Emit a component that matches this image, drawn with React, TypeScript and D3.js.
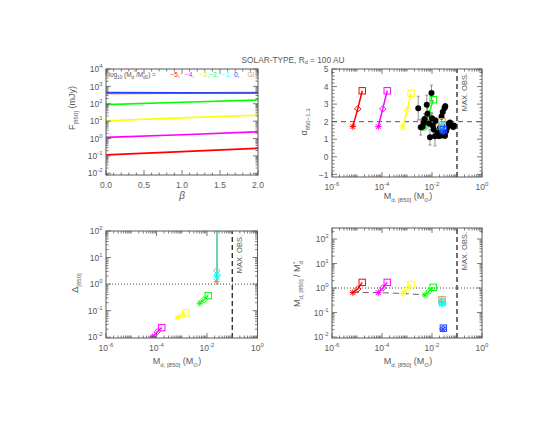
import React from "react";
import * as d3 from "d3";

const FONT = "'Liberation Sans', Arial, sans-serif";
const INK = "#5a5a5a";

const C = {
  red: "#ff0000",
  magenta: "#ff00ff",
  yellow: "#ffff00",
  green: "#00ff00",
  cyan: "#00ffff",
  blue: "#2040ff",
  brown: "#d09a70",
};

// ---------- Panel 1: F850 vs beta ----------
const beta = [0, 1, 2];
const betaTicks = [0, 0.5, 1, 1.5, 2];
const fluxRed = [0.115, 0.175, 0.27];
const fluxMagenta = [1.15, 1.65, 2.4];
const fluxYellow = [10.5, 15.2, 22];
const fluxGreen = [90, 122, 165];
const fluxCyan = [425, 428, 432];
const fluxBrown = [385, 410, 440];
const fluxBlue = [440, 428, 415];

// ---------- model tracks (star, diamond, square) ----------
const massRed = [6.8e-6, 1.07e-5, 1.62e-5];
const massMagenta = [7.1e-5, 1.07e-4, 1.62e-4];
const massYellow = [6.8e-4, 1.02e-3, 1.45e-3];
const massGreen = [5.2e-3, 7.6e-3, 1.12e-2];
const massBrown = [2.4e-2, 2.45e-2, 2.5e-2];
const massCyan = [2.5e-2, 2.55e-2, 2.6e-2];
const massBlue = [2.75e-2, 2.8e-2, 2.85e-2];

const alphaRed = [1.72, 2.73, 3.76];
const alphaMagenta = [1.72, 2.73, 3.76];
const alphaYellow = [1.7, 2.67, 3.61];
const alphaGreen = [1.64, 2.46, 3.25];
const alphaBrown = [1.75, 1.9, 2.0];
const alphaCyan = [1.6, 1.68, 1.75];
const alphaBlue = [1.42, 1.48, 1.55];

const deltaRed = [0.0011, 0.0016, 0.0022];
const deltaMagenta = [0.0105, 0.016, 0.023];
const deltaYellow = [0.054, 0.066, 0.083];
const deltaGreen = [0.19, 0.26, 0.37];
const deltaBrown = [1.25, 3.2, 5e4];
const deltaCyan = [1.9, 2.2, 5e4];
const deltaBlue = [400, 3000, 5e4];

const ratioRed = [0.65, 0.91, 1.7];
const ratioMagenta = [0.65, 1.0, 1.7];
const ratioYellow = [0.6, 0.91, 1.4];
const ratioGreen = [0.52, 0.75, 1.07];
const ratioBrown = [0.28, 0.31, 0.33];
const ratioCyan = [0.22, 0.24, 0.26];
const ratioBlue = [0.021, 0.022, 0.023];

// ---------- observations ----------
const obsLogMass = [-2.55, -2.45, -2.38, -2.33, -2.3, -2.21, -2.18, -2.12, -2.08, -2.02, -2.0, -1.97, -1.93, -1.88, -1.85, -1.78, -1.72, -1.68, -1.62, -1.57, -1.52, -1.5, -1.47, -1.48, -1.44, -1.4, -1.35, -1.28, -1.22, -1.15, -1.12, -1.6];
const obsAlpha = [2.77, 1.69, 1.72, 1.95, 2.15, 2.96, 2.45, 1.9, 1.12, 3.63, 2.2, 1.78, 1.55, 1.17, 2.05, 1.35, 1.18, 1.65, 2.3, 2.55, 1.7, 2.78, 2.88, 1.2, 1.45, 1.62, 1.88, 1.95, 1.78, 1.7, 1.78, 1.22];
const obsErr = [0.68, 0.45, 0.2, 0.25, 0.3, 0.55, 0.35, 0.2, 0.45, 0.45, 0.3, 0.25, 0.2, 0.55, 0.2, 0.15, 0.15, 0.15, 0.15, 0.15, 0.15, 0.15, 0.15, 0.15, 0.15, 0.15, 0.1, 0.1, 0.1, 0.1, 0.1, 0.1];

const maxObs = 0.1;

// ---------- scales ----------
const tlX = d3.scaleLinear().domain([0, 2]).range([106, 258]);
const tlY = d3.scaleLog().domain([Math.pow(10, -2.1), 1e4]).range([175, 69]);
const trX = d3.scaleLog().domain([1e-6, 1]).range([332, 482]);
const trY = d3.scaleLinear().domain([-1.15, 5]).range([177, 69]);
const blX = d3.scaleLog().domain([1e-6, 1]).range([106, 257.5]);
const blY = d3.scaleLog().domain([Math.pow(10, -2.03), 100]).range([338, 231]);
const brX = d3.scaleLog().domain([1e-6, 1]).range([332, 482]);
const brY = d3.scaleLog().domain([Math.pow(10, -2.04), Math.pow(10, 2.45)]).range([338, 228]);

function logTicks(dom: number[]) {
  const [a, b] = dom;
  const major: number[] = [];
  const minor: number[] = [];
  for (let e = Math.floor(Math.log10(a)); e <= Math.ceil(Math.log10(b)); e++) {
    for (let k = 1; k <= 9; k++) {
      const v = k * Math.pow(10, e);
      if (v < a * 0.9999 || v > b * 1.0001) continue;
      (k === 1 ? major : minor).push(v);
    }
  }
  return { major, minor };
}

const powFmt = (v: number) => {
  const e = Math.round(Math.log10(v));
  return (
    <>
      10
      <tspan dy={-4} fontSize={6}>
        {e < 0 ? "-" + Math.abs(e) : String(e)}
      </tspan>
    </>
  );
};

function Frame(props: any) {
  const { x, y, xMajor, xMinor, yMajor, yMinor, xFmt, yFmt } = props;
  const [x0, x1] = x.range();
  const [y0, y1] = y.range();
  const M = 5;
  const m = 2.5;
  let d = "";
  xMajor.forEach((v: number) => {
    const p = x(v);
    d += `M${p},${y0}v${-M}M${p},${y1}v${M}`;
  });
  xMinor.forEach((v: number) => {
    const p = x(v);
    d += `M${p},${y0}v${-m}M${p},${y1}v${m}`;
  });
  yMajor.forEach((v: number) => {
    const p = y(v);
    d += `M${x0},${p}h${M}M${x1},${p}h${-M}`;
  });
  yMinor.forEach((v: number) => {
    const p = y(v);
    d += `M${x0},${p}h${m}M${x1},${p}h${-m}`;
  });
  return (
    <g>
      <path d={d} stroke={INK} strokeWidth={0.8} fill="none" />
      <rect x={x0} y={y1} width={x1 - x0} height={y0 - y1} fill="none" stroke={INK} strokeWidth={1} />
      {xMajor.map((v: number) => (
        <text key={"x" + v} x={x(v)} y={y0 + 12.5} textAnchor="middle" fontSize={8.5} fill={INK}>
          {xFmt(v)}
        </text>
      ))}
      {yMajor.map((v: number) => (
        <text key={"y" + v} x={x0 - 3.5} y={y(v) + 3.2} textAnchor="end" fontSize={8.5} fill={INK}>
          {yFmt(v)}
        </text>
      ))}
    </g>
  );
}

function Marker({ type, cx, cy, color }: any) {
  const s = 3.2;
  if (type === "star") {
    const k = s * 0.75;
    return (
      <path
        d={`M${cx - s},${cy}H${cx + s}M${cx},${cy - s}V${cy + s}M${cx - k},${cy - k}L${cx + k},${cy + k}M${cx - k},${cy + k}L${cx + k},${cy - k}`}
        stroke={color}
        strokeWidth={1}
        fill="none"
      />
    );
  }
  if (type === "diamond") {
    return <path d={`M${cx},${cy - s}L${cx + s},${cy}L${cx},${cy + s}L${cx - s},${cy}Z`} stroke={color} strokeWidth={1} fill="none" />;
  }
  return <rect x={cx - s} y={cy - s} width={2 * s} height={2 * s} stroke={color} strokeWidth={1} fill="none" />;
}

const markerTypes = ["star", "diamond", "square"];

function Track({ xs, ys, color, x, y }: any) {
  const pts = xs.map((v: number, i: number) => [x(v), y(ys[i])] as [number, number]);
  const line = d3.line();
  return (
    <g>
      <path d={line(pts) || ""} stroke={color} strokeWidth={1.5} fill="none" />
      {pts.map((p: [number, number], i: number) => (
        <Marker key={i} type={markerTypes[i]} cx={p[0]} cy={p[1]} color={color} />
      ))}
    </g>
  );
}

function MaxObs({ x, y }: any) {
  const [y0, y1] = y.range();
  const px = x(maxObs);
  return (
    <g>
      <line x1={px} x2={px} y1={y0} y2={y1} stroke="#111" strokeWidth={1.2} strokeDasharray="5,3" />
      <text transform={`translate(${px + 9.5},${y1 + 4}) rotate(-90)`} textAnchor="end" fontSize={7.5} fill={INK}>
        MAX. OBS.
      </text>
    </g>
  );
}

function Clip({ id, x, y }: any) {
  const [x0, x1] = x.range();
  const [y0, y1] = y.range();
  return (
    <clipPath id={id}>
      <rect x={x0} y={y1} width={x1 - x0} height={y0 - y1} />
    </clipPath>
  );
}

function MassLabel({ cx, cy }: any) {
  return (
    <text x={cx} y={cy} textAnchor="middle" fontSize={9} fill={INK}>
      M
      <tspan dy={2.5} fontSize={6}>d, [850]</tspan>
      <tspan dy={-2.5}> (M</tspan>
      <tspan dy={2.5} fontSize={6}>⊙</tspan>
      <tspan dy={-2.5}>)</tspan>
    </text>
  );
}

export default function App() {
  const tlYT = logTicks(tlY.domain());
  const logX = logTicks([1e-6, 1]);
  const blYT = logTicks(blY.domain());
  const brYT = logTicks(brY.domain());
  const xMajLog = logX.major.filter((v) => Math.round(Math.log10(v)) % 2 === 0);
  const xMinLog = [...logX.minor, ...logX.major.filter((v) => Math.round(Math.log10(v)) % 2 !== 0)];
  const lineTL = (ys: number[]) => d3.line<number>().x((_, i) => tlX(beta[i])).y((v) => tlY(v))(ys) || "";
  const tlSeries: [number[], string][] = [
    [fluxRed, C.red],
    [fluxMagenta, C.magenta],
    [fluxYellow, C.yellow],
    [fluxGreen, C.green],
    [fluxCyan, C.cyan],
    [fluxBrown, C.brown],
    [fluxBlue, C.blue],
  ];
  const trTracks: [number[], number[], string][] = [
    [massRed, alphaRed, C.red],
    [massMagenta, alphaMagenta, C.magenta],
    [massYellow, alphaYellow, C.yellow],
    [massGreen, alphaGreen, C.green],
  ];
  const trTracks2: [number[], number[], string][] = [
    [massBrown, alphaBrown, C.brown],
    [massCyan, alphaCyan, C.cyan],
    [massBlue, alphaBlue, C.blue],
  ];
  const blTracks: [number[], number[], string][] = [
    [massRed, deltaRed, C.red],
    [massMagenta, deltaMagenta, C.magenta],
    [massYellow, deltaYellow, C.yellow],
    [massGreen, deltaGreen, C.green],
    [massBlue, deltaBlue, C.blue],
    [massBrown, deltaBrown, C.brown],
    [massCyan, deltaCyan, C.cyan],
  ];
  const brTracks: [number[], number[], string][] = [
    [massRed, ratioRed, C.red],
    [massMagenta, ratioMagenta, C.magenta],
    [massYellow, ratioYellow, C.yellow],
    [massGreen, ratioGreen, C.green],
    [massBrown, ratioBrown, C.brown],
    [massCyan, ratioCyan, C.cyan],
    [massBlue, ratioBlue, C.blue],
  ];
  const starLine = d3.line()([
    [brX(massRed[0]), brY(ratioRed[0])],
    [brX(massMagenta[0]), brY(ratioMagenta[0])],
    [brX(massYellow[0]), brY(ratioYellow[0])],
    [brX(massGreen[0]), brY(ratioGreen[0])],
  ]) || "";

  return (
    <svg width={550} height={425} fontFamily={FONT} style={{ position: "absolute", left: 0, top: 0, background: "#fff" }}>
      <defs>
        <Clip id="ctl" x={tlX} y={tlY} />
        <Clip id="ctr" x={trX} y={trY} />
        <Clip id="cbl" x={blX} y={blY} />
        <Clip id="cbr" x={brX} y={brY} />
      </defs>
      <rect width={550} height={425} fill="#fff" />

      {/* Title */}
      <text x={293} y={62.5} textAnchor="middle" fontSize={8.3} fill={INK}>
        SOLAR-TYPE, R<tspan dy={1.8} fontSize={5.5}>d</tspan>
        <tspan dy={-1.8}> = 100 AU</tspan>
      </text>

      {/* ===== Top-left ===== */}
      <g clipPath="url(#ctl)">
        {tlSeries.map(([ys, c], i) => (
          <path key={i} d={lineTL(ys)} stroke={c} strokeWidth={1.7} fill="none" />
        ))}
      </g>
      <Frame x={tlX} y={tlY} xMajor={betaTicks} xMinor={d3.range(0, 2.001, 0.1).filter((v) => Math.abs(v * 2 - Math.round(v * 2)) > 1e-6)} yMajor={tlYT.major} yMinor={tlYT.minor} xFmt={(v: number) => v.toFixed(1)} yFmt={powFmt} />
      <text x={108.5} y={77} fontSize={6.5} fill={INK}>
        log<tspan dy={2} fontSize={4.5}>10</tspan>
        <tspan dy={-2}> (M</tspan>
        <tspan dy={2} fontSize={4.5}>d</tspan>
        <tspan dy={-5} fontSize={4.5}>*</tspan>
        <tspan dy={3}>/M</tspan>
        <tspan dy={2} fontSize={4.5}>d0</tspan>
        <tspan dy={-2}>) =</tspan>
      </text>
      <text y={77} fontSize={6.5}>
        <tspan x={170.5} fill={C.red}>−5,</tspan>
        <tspan x={185} fill={C.magenta}>−4,</tspan>
        <tspan x={199.5} fill="#e8e800">−3</tspan>
        <tspan x={207.5} fill={C.green}>,−2,</tspan>
        <tspan x={222} fill={C.cyan}>−1,</tspan>
        <tspan x={234} fill={C.blue}>0,</tspan>
        <tspan x={247.5} fill={C.brown}>GI</tspan>
      </text>
      <text transform="translate(75,108) rotate(-90)" textAnchor="middle" fontSize={9} fill={INK}>
        F<tspan dy={2.5} fontSize={6}>[850]</tspan>
        <tspan dy={-2.5}> (mJy)</tspan>
      </text>
      <text x={182} y={199} textAnchor="middle" fontSize={10} fontStyle="italic" fill={INK}>
        β
      </text>

      {/* ===== Top-right ===== */}
      <g clipPath="url(#ctr)">
        <line x1={trX.range()[0]} x2={trX.range()[1]} y1={trY(2)} y2={trY(2)} stroke="#555" strokeWidth={1} strokeDasharray="5,4" />
        {trTracks.map(([xs, ys, c], i) => (
          <Track key={i} xs={xs} ys={ys} color={c} x={trX} y={trY} />
        ))}
        {obsLogMass.map((lm, i) => {
          const px = trX(Math.pow(10, lm));
          const y1 = trY(obsAlpha[i] + obsErr[i]);
          const y2 = trY(obsAlpha[i] - obsErr[i]);
          return (
            <path key={"e" + i} d={`M${px},${y1}V${y2}M${px - 1.5},${y1}h3M${px - 1.5},${y2}h3`} stroke="#777" strokeWidth={0.8} fill="none" />
          );
        })}
        {obsLogMass.map((lm, i) => (
          <circle key={"o" + i} cx={trX(Math.pow(10, lm))} cy={trY(obsAlpha[i])} r={3} fill="#000" />
        ))}
        {trTracks2.map(([xs, ys, c], i) => (
          <Track key={"b" + i} xs={xs} ys={ys} color={c} x={trX} y={trY} />
        ))}
      </g>
      <MaxObs x={trX} y={trY} />
      <Frame x={trX} y={trY} xMajor={xMajLog} xMinor={xMinLog} yMajor={d3.range(-1, 5.01, 1)} yMinor={d3.range(-1.2, 5.01, 0.2).filter((v) => Math.abs(v - Math.round(v)) > 1e-6 && v >= -1.15)} xFmt={powFmt} yFmt={(v: number) => (v < 0 ? "−" + Math.abs(v) : String(v))} />
      <text transform="translate(307,122) rotate(-90)" textAnchor="middle" fontSize={9} fill={INK}>
        α<tspan dy={2.5} fontSize={6}>850−1.3</tspan>
      </text>
      <MassLabel cx={408} cy={199} />

      {/* ===== Bottom-left ===== */}
      <g clipPath="url(#cbl)">
        <line x1={blX.range()[0]} x2={blX.range()[1]} y1={blY(1)} y2={blY(1)} stroke="#444" strokeWidth={1} strokeDasharray="1,2" />
        {blTracks.map(([xs, ys, c], i) => (
          <Track key={i} xs={xs} ys={ys} color={c} x={blX} y={blY} />
        ))}
      </g>
      <MaxObs x={blX} y={blY} />
      <Frame x={blX} y={blY} xMajor={xMajLog} xMinor={xMinLog} yMajor={blYT.major} yMinor={blYT.minor} xFmt={powFmt} yFmt={powFmt} />
      <text transform="translate(78,283) rotate(-90)" textAnchor="middle" fontSize={9} fill={INK}>
        Δ<tspan dy={2.5} fontSize={6}>[850]</tspan>
      </text>
      <MassLabel cx={177} cy={364} />

      {/* ===== Bottom-right ===== */}
      <g clipPath="url(#cbr)">
        <line x1={brX.range()[0]} x2={brX.range()[1]} y1={brY(1)} y2={brY(1)} stroke="#444" strokeWidth={1} strokeDasharray="1,2" />
        <path d={starLine} stroke="#666" strokeWidth={1} strokeDasharray="6,4" fill="none" />
        {brTracks.map(([xs, ys, c], i) => (
          <Track key={i} xs={xs} ys={ys} color={c} x={brX} y={brY} />
        ))}
      </g>
      <MaxObs x={brX} y={brY} />
      <Frame x={brX} y={brY} xMajor={xMajLog} xMinor={xMinLog} yMajor={brYT.major} yMinor={brYT.minor} xFmt={powFmt} yFmt={powFmt} />
      <text transform="translate(300,284) rotate(-90)" textAnchor="middle" fontSize={9} fill={INK}>
        M<tspan dy={2.5} fontSize={6}>d, [850]</tspan>
        <tspan dy={-2.5}> / M</tspan>
        <tspan dy={2.5} fontSize={6}>d</tspan>
        <tspan dy={-6} dx={-3} fontSize={6}>*</tspan>
      </text>
      <MassLabel cx={408} cy={364} />
    </svg>
  );
}
